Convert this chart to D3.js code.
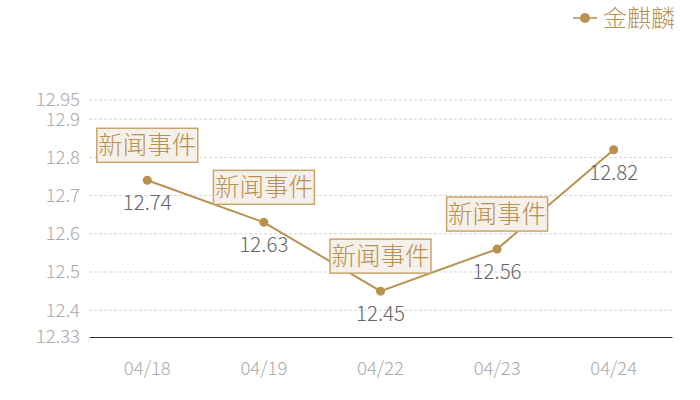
<!DOCTYPE html>
<html>
<head>
<meta charset="utf-8">
<script src="https://cdn.jsdelivr.net/npm/d3@7"></script>
<style>
  body { margin: 0; background: #fff; }
  svg { display: block; font-family: "Noto Sans CJK SC", "Noto Sans", sans-serif; font-weight: 300; }
</style>
</head>
<body>
<svg id="chart" width="700" height="400"></svg>
<script>
// chart data
var dates = ["04/18", "04/19", "04/22", "04/23", "04/24"];
var prices = [12.74, 12.63, 12.45, 12.56, 12.82];
var hasEvent = [true, true, true, true, false];
var eventText = "新闻事件";
var seriesName = "金麒麟";
var yTicks = [12.33, 12.4, 12.5, 12.6, 12.7, 12.8, 12.9, 12.95];

var gold = "#b99150";
var margin = { left: 89, right: 28, top: 100, bottom: 63 };
var W = 700, H = 400;

var svg = d3.select("#chart");

var x = d3.scaleBand()
  .domain(dates)
  .range([margin.left, W - margin.right]);

var y = d3.scaleLinear()
  .domain([12.33, 12.95])
  .range([H - margin.bottom, margin.top]);

function cx(d) { return x(d) + x.bandwidth() / 2; }

// grid lines
svg.append("g")
  .selectAll("line")
  .data(yTicks.filter(function(t) { return t !== 12.33; }))
  .enter().append("line")
  .attr("x1", margin.left)
  .attr("x2", W - margin.right)
  .attr("y1", function(d) { return y(d); })
  .attr("y2", function(d) { return y(d); })
  .attr("stroke", "#d4d4d4")
  .attr("stroke-dasharray", "3,2")
  .attr("stroke-width", 1);

// y axis labels
var yAxis = d3.axisLeft(y)
  .tickValues(yTicks)
  .tickSize(0)
  .tickPadding(9)
  .tickFormat(function(d) { return String(d); });

var gy = svg.append("g")
  .attr("transform", "translate(" + margin.left + ",0)")
  .call(yAxis);
gy.select(".domain").remove();
gy.selectAll("text")
  .attr("fill", "#aaaaaa")
  .attr("font-size", 18.5)
  .attr("font-family", "Noto Sans CJK SC");

// x axis
var xAxis = d3.axisBottom(x).tickSize(0).tickPadding(25);
var gx = svg.append("g")
  .attr("transform", "translate(0," + y(12.33) + ")")
  .call(xAxis);
gx.select(".domain").attr("stroke", "#333").attr("stroke-width", 1.2);
gx.selectAll("text")
  .attr("fill", "#aaaaaa")
  .attr("font-size", 18.5)
  .attr("font-family", "Noto Sans CJK SC");

// series line
var line = d3.line()
  .x(function(d, i) { return cx(dates[i]); })
  .y(function(d) { return y(d); });

svg.append("path")
  .datum(prices)
  .attr("d", line)
  .attr("fill", "none")
  .attr("stroke", gold)
  .attr("stroke-width", 2);

svg.append("g")
  .selectAll("circle")
  .data(prices)
  .enter().append("circle")
  .attr("cx", function(d, i) { return cx(dates[i]); })
  .attr("cy", function(d) { return y(d); })
  .attr("r", 4.5)
  .attr("fill", gold);

// value labels
svg.append("g")
  .selectAll("text")
  .data(prices)
  .enter().append("text")
  .attr("x", function(d, i) { return cx(dates[i]); })
  .attr("y", function(d) { return y(d) + 30; })
  .attr("text-anchor", "middle")
  .attr("fill", "#666")
  .attr("font-size", 20.5)
  .text(function(d) { return d.toFixed(2); });

// event boxes
var ev = svg.append("g")
  .selectAll("g")
  .data(prices.map(function(p, i) { return { d: dates[i], v: p, e: hasEvent[i] }; })
    .filter(function(o) { return o.e; }))
  .enter().append("g")
  .attr("transform", function(o) {
    return "translate(" + cx(o.d) + "," + (y(o.v) - 18) + ")";
  });

ev.append("rect")
  .attr("x", -50.5)
  .attr("y", -34)
  .attr("width", 101)
  .attr("height", 34)
  .attr("fill", "#f5f0ea")
  .attr("stroke", "#c9a46c")
  .attr("stroke-width", 1.5);

ev.append("text")
  .attr("x", 0)
  .attr("y", -8)
  .attr("text-anchor", "middle")
  .attr("fill", gold)
  .attr("font-size", 24.5)
  .text(eventText);

// legend
var lg = svg.append("g").attr("transform", "translate(573,18)");
lg.append("line")
  .attr("x1", 0).attr("x2", 24)
  .attr("stroke", gold).attr("stroke-width", 1.5);
lg.append("circle")
  .attr("cx", 12).attr("r", 5).attr("fill", gold);
lg.append("text")
  .attr("x", 30).attr("y", 9)
  .attr("fill", gold)
  .attr("font-size", 24)
  .text(seriesName);
</script>
</body>
</html>
